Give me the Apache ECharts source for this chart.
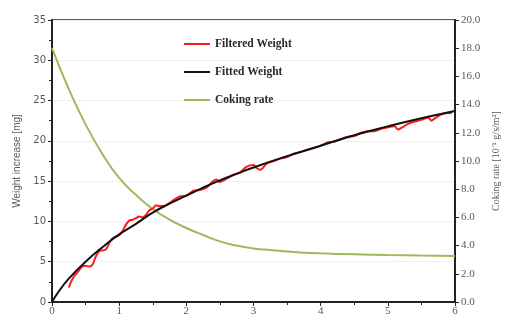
<!DOCTYPE html>
<html>
<head>
<meta charset="utf-8">
<script src="https://cdn.jsdelivr.net/npm/echarts@6/dist/echarts.min.js"></script>
<style>
  html, body { margin: 0; padding: 0; background: #fff; }
  #chart { width: 513px; height: 320px; }
</style>
</head>
<body>
<div id="chart"></div>
<script>
// time [h] vs weight increase [mg] / coking rate
const filteredX = [0.25, 0.3, 0.35, 0.4, 0.45, 0.5, 0.55, 0.6, 0.65, 0.7, 0.75, 0.8, 0.85, 0.9, 0.95, 1.0,
  1.05, 1.1, 1.15, 1.2, 1.25, 1.3, 1.35, 1.4, 1.45, 1.5, 1.55, 1.6, 1.7, 1.8, 1.9, 2.0, 2.1, 2.2, 2.3, 2.4,
  2.45, 2.5, 2.6, 2.7, 2.8, 2.9, 3.0, 3.05, 3.1, 3.2, 3.3, 3.4, 3.5, 3.6, 3.7, 3.8, 3.9, 4.0, 4.1, 4.2, 4.3,
  4.4, 4.5, 4.6, 4.7, 4.8, 4.9, 5.0, 5.1, 5.15, 5.2, 5.3, 5.4, 5.5, 5.6, 5.65, 5.7, 5.8, 5.9, 5.95];
const filteredW = [1.8, 2.8, 3.4, 3.9, 4.4, 4.5, 4.4, 4.6, 5.6, 6.3, 6.4, 6.5, 7.3, 7.9, 8.1, 8.3,
  8.8, 9.6, 10.1, 10.2, 10.4, 10.6, 10.5, 10.8, 11.4, 11.6, 12.0, 11.9, 12.0, 12.6, 13.1, 13.2, 13.8, 13.9, 14.2, 15.0,
  15.2, 14.9, 15.3, 15.8, 16.1, 16.8, 17.0, 16.6, 16.4, 17.2, 17.5, 17.8, 18.0, 18.4, 18.6, 18.9, 19.1, 19.4, 19.8, 19.9, 20.2,
  20.5, 20.6, 21.0, 21.2, 21.2, 21.5, 21.7, 21.8, 21.4, 21.6, 22.1, 22.4, 22.6, 22.9, 22.5, 22.8, 23.3, 23.5, 23.4];

const fittedX = [0, 0.1, 0.25, 0.5, 0.75, 1.0, 1.25, 1.5, 1.75, 2.0, 2.25, 2.5, 2.75, 3.0, 3.5, 4.0, 4.5, 5.0, 5.5, 6.0];
const fittedW = [0, 1.3, 2.9, 5.0, 6.8, 8.4, 9.7, 11.1, 12.2, 13.2, 14.2, 15.1, 15.9, 16.7, 18.1, 19.4, 20.7, 21.8, 22.8, 23.7];

const rateX = [0, 0.25, 0.5, 0.75, 1.0, 1.25, 1.5, 1.75, 2.0, 2.25, 2.5, 2.75, 3.0, 3.25, 3.5, 3.75, 4.0, 4.5, 5.0, 5.5, 6.0];
const rateY = [18.0, 15.1, 12.6, 10.5, 8.8, 7.6, 6.6, 5.85, 5.25, 4.75, 4.3, 4.0, 3.8, 3.68, 3.58, 3.5, 3.45, 3.38, 3.33, 3.3, 3.27];

const pairs = (xs, ys) => xs.map((x, i) => [x, ys[i]]);

const chart = echarts.init(document.getElementById('chart'));
const axisGray = '#595959';

chart.setOption({
  animation: false,
  grid: { left: 52, right: 58, top: 20, bottom: 18, show: true, borderColor: '#222', borderWidth: 1.5 },
  legend: {
    orient: 'vertical',
    left: 179,
    top: 33,
    icon: 'rect',
    itemWidth: 26,
    itemHeight: 2,
    itemGap: 16,
    textStyle: { fontFamily: 'Liberation Serif', fontSize: 11.5, fontWeight: 'bold', color: '#2a2a2a' },
    data: ['Filtered Weight', 'Fitted Weight', 'Coking rate']
  },
  xAxis: {
    type: 'value', min: 0, max: 6, interval: 1,
    axisLine: { lineStyle: { color: '#222', width: 2 } },
    axisTick: { show: true, length: 4, lineStyle: { color: '#222' } },
    minorTick: { show: true, splitNumber: 2, length: 3, lineStyle: { color: '#222' } },
    axisLabel: { color: axisGray, fontFamily: 'Liberation Serif', fontSize: 11, margin: 4 },
    splitLine: { show: false }
  },
  yAxis: [{
    type: 'value', min: 0, max: 35, interval: 5,
    name: 'Weight increase [mg]',
    nameLocation: 'middle', nameGap: 26,
    nameTextStyle: { color: axisGray, fontFamily: 'Liberation Sans', fontSize: 10 },
    axisLine: { show: true, lineStyle: { color: '#222', width: 2 } },
    axisTick: { show: true, length: 4, lineStyle: { color: '#222' } },
    minorTick: { show: true, splitNumber: 2, length: 3, lineStyle: { color: '#222' } },
    axisLabel: { color: axisGray, fontFamily: 'DejaVu Sans', fontSize: 10, margin: 6 },
    splitLine: { show: true, lineStyle: { color: '#f0f0f0', width: 1 } }
  }, {
    type: 'value', min: 0, max: 20, interval: 2,
    position: 'right',
    name: 'Coking rate [10\u207B\u00B9 g/s/m\u00B2]',
    nameLocation: 'middle', nameGap: 36, nameRotate: 90,
    nameTextStyle: { color: axisGray, fontFamily: 'Liberation Serif', fontSize: 10 },
    axisLine: { show: true, lineStyle: { color: '#222', width: 2 } },
    axisTick: { show: true, length: 4, lineStyle: { color: '#222' } },
    axisLabel: { color: axisGray, fontFamily: 'Liberation Serif', fontSize: 11, margin: 6,
      formatter: v => v.toFixed(1) },
    splitLine: { show: false }
  }],
  series: [{
    name: 'Filtered Weight', type: 'line', yAxisIndex: 0,
    data: pairs(filteredX, filteredW), symbol: 'none', smooth: 0.3,
    lineStyle: { color: '#ff1a1a', width: 2 }, itemStyle: { color: '#ff1a1a' }, z: 2
  }, {
    name: 'Fitted Weight', type: 'line', yAxisIndex: 0,
    data: pairs(fittedX, fittedW), symbol: 'none', smooth: true,
    lineStyle: { color: '#111', width: 2 }, itemStyle: { color: '#111' }, z: 3
  }, {
    name: 'Coking rate', type: 'line', yAxisIndex: 1,
    data: pairs(rateX, rateY), symbol: 'none', smooth: true,
    lineStyle: { color: '#9bbb59', width: 2 }, itemStyle: { color: '#9bbb59' }, z: 1
  }]
});
</script>
</body>
</html>
